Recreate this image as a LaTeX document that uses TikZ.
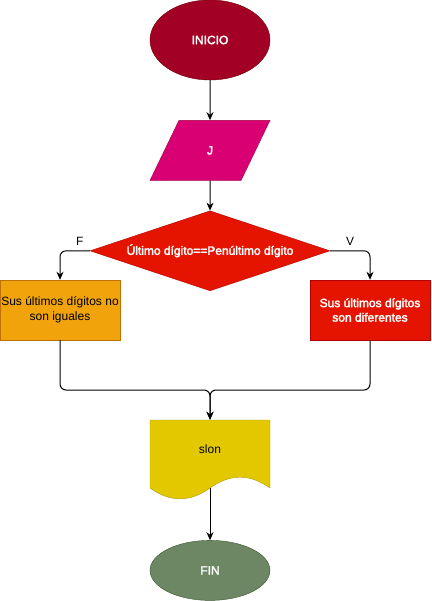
\documentclass[tikz,border=0pt]{standalone}
\usepackage{fontspec}
\setmainfont{Liberation Sans}[BoldFont=Liberation Sans, BoldFeatures={FakeBold=2.6}]
\usetikzlibrary{shapes.geometric, arrows.meta, positioning}
\definecolor{crimsonFill}{HTML}{A20025}
\definecolor{crimsonLine}{HTML}{6F0000}
\definecolor{magentaFill}{HTML}{D80073}
\definecolor{magentaLine}{HTML}{A50040}
\definecolor{redFill}{HTML}{E51400}
\definecolor{redLine}{HTML}{B20000}
\definecolor{amberFill}{HTML}{F0A30A}
\definecolor{amberLine}{HTML}{BD7000}
\definecolor{yellowFill}{HTML}{E3C800}
\definecolor{yellowLine}{HTML}{B09500}
\definecolor{oliveFill}{HTML}{6D8764}
\definecolor{oliveLine}{HTML}{3A5431}
\tikzstyle{arrow} = [thick, ->, >=Stealth]

\begin{document}
\begin{tikzpicture}[
    x=1pt, y=-1pt,
    node distance=40pt,
    every node/.style={font=\fontsize{12}{14.5}\selectfont},
    terminal/.style={ellipse, draw, minimum width=120pt, minimum height=80pt, inner sep=0pt, text=white, font=\fontsize{12}{14.5}\selectfont\bfseries},
    datos/.style={trapezium, trapezium left angle=71.57, trapezium right angle=108.43, trapezium stretches=true, draw, minimum width=120pt, minimum height=60pt, inner sep=0pt, text=white, font=\fontsize{12}{14.5}\selectfont\bfseries},
    decision/.style={diamond, aspect=3, draw, minimum width=240pt, minimum height=80pt, inner sep=0pt, text=white, font=\fontsize{12}{14.5}\selectfont\bfseries},
    process/.style={rectangle, draw, minimum width=120pt, minimum height=60pt, inner sep=0pt, align=center},
    arrow/.style={->, line width=1pt, >={Stealth[length=8pt, width=7pt]}, rounded corners=6pt}
]
    \useasboundingbox (0,0) rectangle (431,601);

    % Start and input
    \node[terminal, fill=crimsonFill, draw=crimsonLine] (inicio) at (210,40) {INICIO};
    \node[datos, fill=magentaFill, draw=magentaLine, below=of inicio] (valor) {J};

    % Condition
    \node[decision, fill=redFill, draw=redLine, below=30pt of valor] (cond) {Último dígito==Penúltimo dígito};

    % Branches
    \node[process, fill=amberFill, draw=amberLine] (iguales) at (60,310) {Sus últimos dígitos no\\son iguales};
    \node[process, fill=redFill, draw=redLine, text=white, font=\fontsize{12}{14.5}\selectfont\bfseries] (diferentes) at (370,310) {Sus últimos dígitos\\son diferentes};

    % Output document
    \node[rectangle, minimum width=120pt, minimum height=80pt, inner sep=0pt] (salida) at (210,460) {};
    \filldraw[fill=yellowFill, draw=yellowLine] (150,420) -- (270,420) -- (270,488)
        .. controls (250,473.6) and (230,473.6) .. (210,488)
        .. controls (190,502.4) and (170,502.4) .. (150,488) -- cycle;
    \node (texto) at ([yshift=11pt]salida.center) {slon};
    \coordinate (docbot) at (210,488);
    \coordinate (union) at (210,390);

    % End
    \node[terminal, fill=oliveFill, draw=oliveLine, minimum height=60pt, below=of salida] (fin) {FIN};

    % Arrows
    \draw[arrow] (inicio) -- (valor);
    \draw[arrow] (valor) -- (cond);
    \draw[arrow] (cond.west) -| node[pos=0.17, above=1pt] {F} (iguales.north);
    \draw[arrow] (cond.east) -| node[pos=0.25, above=1pt] {V} (diferentes.north);
    \draw[arrow] (iguales.south) |- (union) -- (salida.north);
    \draw[arrow] (diferentes.south) |- (union) -- (salida.north);
    \draw[arrow] (docbot) -- (fin.north);

\end{tikzpicture}
\end{document}
